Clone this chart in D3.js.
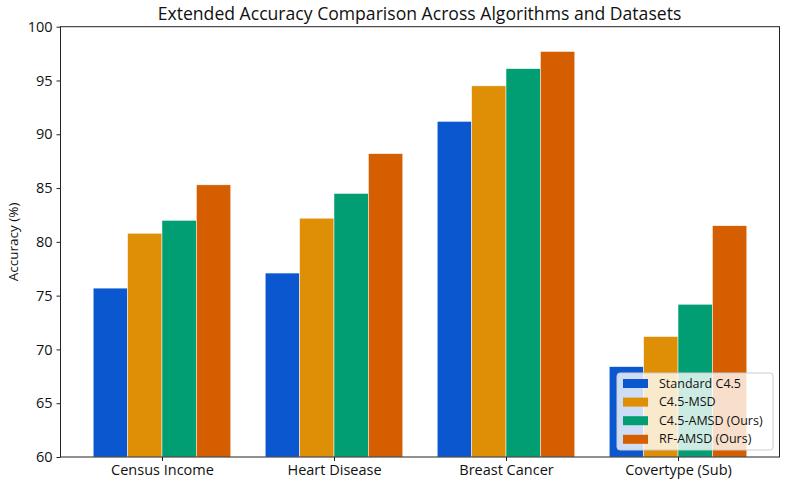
<!DOCTYPE html>
<html><head><meta charset="utf-8">
<script src="https://cdn.jsdelivr.net/npm/d3@7"></script>
<style>
html,body{margin:0;padding:0;background:#fff;}
svg{display:block;}
svg text{font-family:"Open Sans", Roboto, sans-serif;}
</style></head>
<body><svg id="chart" width="787" height="488"></svg>
<script>
const categories = ["Census Income", "Heart Disease", "Breast Cancer", "Covertype (Sub)"];
const seriesNames = ["Standard C4.5", "C4.5-MSD", "C4.5-AMSD (Ours)", "RF-AMSD (Ours)"];
const standardC45 = [75.7, 77.1, 91.2, 68.4];
const c45MSD = [80.8, 82.2, 94.5, 71.2];
const c45AMSD = [82.0, 84.5, 96.1, 74.2];
const rfAMSD = [85.3, 88.2, 97.7, 81.5];
const seriesValues = [standardC45, c45MSD, c45AMSD, rfAMSD];
const colors = ["#0B57D0", "#DE8F05", "#029E73", "#D55E00"];
const yTicks = [60, 65, 70, 75, 80, 85, 90, 95, 100];
const title = "Extended Accuracy Comparison Across Algorithms and Datasets";
const yLabel = "Accuracy (%)";

(function () {
const svg = d3.select("#chart");
const mLeft = 60.5, mRight = 779.5, mTop = 26.7, mBottom = 457;
const barW = 0.2;
const x = d3.scaleLinear().domain([-0.59, 3.59]).range([mLeft, mRight]);
const y = d3.scaleLinear().domain([60, 100]).range([mBottom, mTop]);

seriesValues.forEach((vals, si) => {
  svg.append("g").selectAll("rect").data(vals).enter().append("rect")
    .attr("x", (d, i) => x(i + (si - 1.5) * barW - barW / 2))
    .attr("width", x(barW) - x(0))
    .attr("y", d => y(d))
    .attr("height", d => y(60) - y(d))
    .attr("fill", colors[si])
    .attr("stroke", "#fff").attr("stroke-width", 0.5);
});

svg.append("rect").attr("x", mLeft).attr("y", mTop).attr("width", mRight - mLeft).attr("height", mBottom - mTop)
  .attr("fill", "none").attr("stroke", "#222").attr("stroke-width", 1);

const yAxis = d3.axisLeft(y).tickValues(yTicks).tickSize(4).tickPadding(4).tickFormat(d3.format("d"));
const gy = svg.append("g").attr("transform", `translate(${mLeft},0)`).call(yAxis);
gy.select(".domain").remove();
gy.selectAll("text").attr("font-size", 14.5).attr("fill", "#111");
gy.selectAll("line").attr("stroke", "#222");

const xAxis = d3.axisBottom(x).tickValues([0, 1, 2, 3]).tickFormat(i => categories[i]).tickSize(4).tickPadding(4);
const gx = svg.append("g").attr("transform", `translate(0,${mBottom})`).call(xAxis);
gx.select(".domain").remove();
gx.selectAll("text").attr("font-size", 14.5).attr("fill", "#111");
gx.selectAll("line").attr("stroke", "#222");

svg.append("text").attr("x", (mLeft + mRight) / 2 - 0.5).attr("y", 20).attr("text-anchor", "middle")
  .attr("font-size", 17.6).attr("fill", "#111").text(title);

svg.append("text").attr("transform", `translate(18,${(mTop + mBottom) / 2}) rotate(-90)`)
  .attr("text-anchor", "middle").attr("font-size", 13.5).attr("fill", "#111").text(yLabel);

const lg = svg.append("g").attr("transform", "translate(617,373)");
lg.append("rect").attr("width", 156).attr("height", 77).attr("rx", 3)
  .attr("fill", "#fff").attr("fill-opacity", 0.8).attr("stroke", "#ccc").attr("stroke-width", 1);
seriesNames.forEach((name, i) => {
  const gi = lg.append("g").attr("transform", `translate(6,${10 + i * 18.6})`);
  gi.append("rect").attr("x", 0).attr("y", -4).attr("width", 25).attr("height", 9).attr("fill", colors[i]);
  gi.append("text").attr("x", 36).attr("y", 4.5).attr("font-size", 12.5).attr("fill", "#111").text(name);
});
})();
</script>
</body></html>
